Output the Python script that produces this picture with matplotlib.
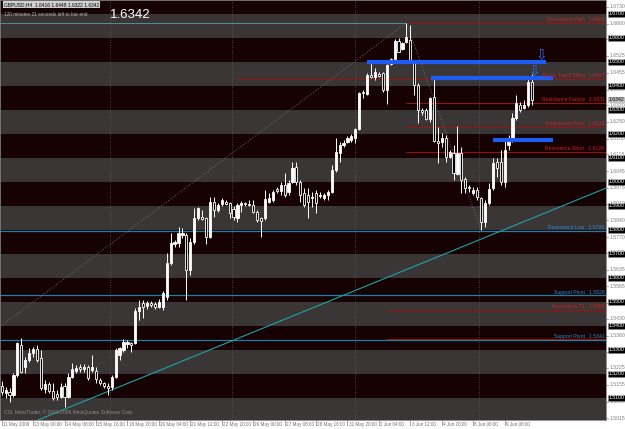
import matplotlib
matplotlib.use("Agg")
import matplotlib.pyplot as plt
import matplotlib.transforms as mtransforms
import numpy as np

# ---- GBPUSD H4 candles ----
opens = [1.5150, 1.5121, 1.5125, 1.5113, 1.5196, 1.5321, 1.5229, 1.5258, 1.5288, 1.5304,
         1.5267, 1.5138, 1.5158, 1.5129, 1.5117, 1.5104, 1.5150, 1.5104, 1.5188, 1.5213,
         1.5229, 1.5221, 1.5229, 1.5217, 1.5213, 1.5175, 1.5163, 1.5150, 1.5146, 1.5188,
         1.5279, 1.5300, 1.5325, 1.5329, 1.5329, 1.5463, 1.5496, 1.5483, 1.5496, 1.5492,
         1.5479, 1.5479, 1.5521, 1.5663, 1.5742, 1.5746, 1.5779, 1.5779, 1.5633, 1.5750,
         1.5850, 1.5854, 1.5850, 1.5771, 1.5917, 1.5883, 1.5908, 1.5917, 1.5913, 1.5888,
         1.5850, 1.5904, 1.5913, 1.5904, 1.5904, 1.5875, 1.5850, 1.5850, 1.5917, 1.5925,
         1.5971, 1.5963, 1.5988, 1.5958, 1.6000, 1.6063, 1.6000, 1.5954, 1.5946, 1.5933,
         1.5954, 1.5942, 1.5933, 1.5946, 1.5958, 1.6050, 1.6121, 1.6154, 1.6167, 1.6175,
         1.6183, 1.6221, 1.6375, 1.6367, 1.6446, 1.6438, 1.6450, 1.6454, 1.6383, 1.6492,
         1.6513, 1.6588, 1.6554, 1.6583, 1.6592, 1.6500, 1.6404, 1.6300, 1.6300, 1.6263,
         1.6354, 1.6171, 1.6167, 1.6183, 1.6104, 1.6121, 1.6033, 1.6121, 1.6013, 1.5979,
         1.5954, 1.5967, 1.5933, 1.5833, 1.5913, 1.5975, 1.6083, 1.6083, 1.6000, 1.6154,
         1.6175, 1.6267, 1.6321, 1.6308, 1.6321, 1.6416]
highs = [1.5171, 1.5146, 1.5142, 1.5204, 1.5333, 1.5350, 1.5271, 1.5308, 1.5313, 1.5321,
         1.5300, 1.5175, 1.5167, 1.5163, 1.5133, 1.5163, 1.5163, 1.5204, 1.5246, 1.5238,
         1.5242, 1.5242, 1.5238, 1.5279, 1.5229, 1.5183, 1.5167, 1.5163, 1.5196, 1.5308,
         1.5313, 1.5346, 1.5342, 1.5333, 1.5475, 1.5508, 1.5508, 1.5504, 1.5504, 1.5500,
         1.5513, 1.5546, 1.5704, 1.5788, 1.5758, 1.5813, 1.5808, 1.5788, 1.5767, 1.5892,
         1.5896, 1.5883, 1.5854, 1.5938, 1.5938, 1.5913, 1.5933, 1.5925, 1.5917, 1.5900,
         1.5913, 1.5921, 1.5917, 1.5925, 1.5925, 1.5883, 1.5854, 1.5967, 1.5954, 1.5967,
         1.5979, 1.6000, 1.6038, 1.6008, 1.6083, 1.6083, 1.6008, 1.5975, 1.5975, 1.5958,
         1.5967, 1.5958, 1.5954, 1.5967, 1.6071, 1.6183, 1.6167, 1.6175, 1.6192, 1.6200,
         1.6225, 1.6375, 1.6383, 1.6454, 1.6496, 1.6475, 1.6458, 1.6458, 1.6492, 1.6517,
         1.6596, 1.6600, 1.6583, 1.6663, 1.6654, 1.6508, 1.6413, 1.6308, 1.6308, 1.6354,
         1.6433, 1.6229, 1.6204, 1.6196, 1.6133, 1.6154, 1.6233, 1.6146, 1.6021, 1.5988,
         1.5979, 1.5979, 1.5938, 1.5925, 1.5996, 1.6100, 1.6100, 1.6133, 1.6183, 1.6196,
         1.6288, 1.6363, 1.6333, 1.6342, 1.6433, 1.6448]
lows = [1.5113, 1.5100, 1.5083, 1.5104, 1.5188, 1.5204, 1.5204, 1.5250, 1.5271, 1.5250,
        1.5133, 1.5121, 1.5121, 1.5092, 1.5092, 1.5100, 1.5063, 1.5100, 1.5183, 1.5204,
        1.5208, 1.5208, 1.5175, 1.5208, 1.5163, 1.5154, 1.5142, 1.5113, 1.5133, 1.5183,
        1.5258, 1.5292, 1.5308, 1.5292, 1.5325, 1.5425, 1.5433, 1.5471, 1.5479, 1.5471,
        1.5475, 1.5467, 1.5508, 1.5654, 1.5729, 1.5729, 1.5767, 1.5508, 1.5613, 1.5742,
        1.5842, 1.5842, 1.5742, 1.5767, 1.5854, 1.5875, 1.5900, 1.5904, 1.5850, 1.5842,
        1.5833, 1.5875, 1.5900, 1.5900, 1.5871, 1.5833, 1.5771, 1.5842, 1.5913, 1.5917,
        1.5954, 1.5946, 1.5938, 1.5946, 1.5996, 1.5988, 1.5917, 1.5896, 1.5850, 1.5896,
        1.5871, 1.5933, 1.5925, 1.5925, 1.5954, 1.6042, 1.6083, 1.6146, 1.6163, 1.6167,
        1.6163, 1.6217, 1.6350, 1.6363, 1.6433, 1.6425, 1.6438, 1.6375, 1.6325, 1.6488,
        1.6508, 1.6542, 1.6550, 1.6579, 1.6496, 1.6363, 1.6246, 1.6279, 1.6258, 1.6250,
        1.6167, 1.6079, 1.6146, 1.6083, 1.6100, 1.6008, 1.6029, 1.5954, 1.5954, 1.5958,
        1.5946, 1.5925, 1.5800, 1.5813, 1.5904, 1.5967, 1.6021, 1.5988, 1.5979, 1.6133,
        1.6167, 1.6258, 1.6292, 1.6304, 1.6313, 1.6322]
closes = [1.5125, 1.5133, 1.5113, 1.5196, 1.5329, 1.5208, 1.5258, 1.5288, 1.5304, 1.5258,
          1.5142, 1.5158, 1.5129, 1.5100, 1.5104, 1.5146, 1.5104, 1.5188, 1.5221, 1.5225,
          1.5221, 1.5229, 1.5183, 1.5229, 1.5179, 1.5163, 1.5150, 1.5142, 1.5188, 1.5300,
          1.5308, 1.5333, 1.5333, 1.5321, 1.5463, 1.5479, 1.5479, 1.5496, 1.5488, 1.5479,
          1.5500, 1.5538, 1.5663, 1.5746, 1.5750, 1.5788, 1.5788, 1.5633, 1.5750, 1.5850,
          1.5892, 1.5846, 1.5771, 1.5917, 1.5883, 1.5904, 1.5925, 1.5908, 1.5871, 1.5854,
          1.5904, 1.5913, 1.5908, 1.5908, 1.5875, 1.5842, 1.5838, 1.5929, 1.5933, 1.5958,
          1.5963, 1.5988, 1.5946, 1.5996, 1.6058, 1.6000, 1.5946, 1.5904, 1.5917, 1.5938,
          1.5913, 1.5946, 1.5946, 1.5958, 1.6050, 1.6125, 1.6154, 1.6163, 1.6183, 1.6192,
          1.6221, 1.6371, 1.6371, 1.6446, 1.6438, 1.6458, 1.6442, 1.6383, 1.6488, 1.6513,
          1.6588, 1.6542, 1.6579, 1.6604, 1.6500, 1.6404, 1.6300, 1.6292, 1.6263, 1.6350,
          1.6171, 1.6163, 1.6183, 1.6104, 1.6125, 1.6038, 1.6121, 1.6008, 1.5975, 1.5975,
          1.5967, 1.5938, 1.5833, 1.5913, 1.5971, 1.6079, 1.6058, 1.6000, 1.6133, 1.6175,
          1.6267, 1.6329, 1.6300, 1.6321, 1.6417, 1.6342]

time_label_bars = [0, 8, 16, 24, 32, 40, 48, 56, 64, 72, 80, 88, 96, 104, 112, 120, 128]
time_labels = ["11 May 2009", "13 May 00:00", "14 May 08:00", "15 May 16:00", "18 May 20:00",
               "20 May 04:00", "21 May 12:00", "22 May 20:00", "26 May 00:00", "27 May 08:00",
               "28 May 16:00", "31 May 20:00", "2 Jun 04:00", "3 Jun 12:00", "4 Jun 20:00",
               "8 Jun 00:00", "9 Jun 08:00"]
week_separators = [27.6, 58.7, 89.9, 121.5]

price_ticks = [1.6730, 1.6660, 1.6595, 1.6525, 1.6455, 1.6385, 1.6320, 1.6250, 1.6180,
               1.6115, 1.6045, 1.5975, 1.5910, 1.5840, 1.5770, 1.5705, 1.5635, 1.5565,
               1.5495, 1.5430, 1.5360, 1.5290, 1.5225, 1.5155, 1.5085, 1.5015]
round_levels = [1.67, 1.66, 1.65, 1.64, 1.63, 1.62, 1.61, 1.60, 1.59, 1.58, 1.57,
                1.56, 1.55, 1.54, 1.53, 1.52, 1.51]
band_bottoms = [1.50, 1.52, 1.54, 1.56, 1.58, 1.60, 1.62, 1.64, 1.66]

# red resistance levels: (price, start bar, label)
red_levels = [(1.6662, 103, "Resistance High   1.6662"),
              (1.6429, 60, "Break Trend Short   1.6427"),
              (1.6329, 103, "Resistance Failure   1.6331"),
              (1.6229, 103, "Resistance Pivot   1.6226"),
              (1.6126, 103, "Resistance Short   1.6126"),
              (1.5468, 98, "Resistance T1   1.5468"),
              (1.5347, 98, "")]
# blue-teal support levels: (price, label)
teal_levels = [(1.5796, "Resistance Low   1.5796"),
               (1.5528, "Support Pivot   1.5528"),
               (1.5341, "Support Pivot   1.5341")]
# thick blue lines: (price, start bar, end bar, arrow bar)
blue_lines = [(1.6502, 93, 138.5, 137.3),
              (1.6435, 109.2, 140.3, 135.5),
              (1.6173, 125, 140.3, None)]
zigzag_bars = [-0.4, 103, 122]
zigzag_prices = [1.5397, 1.6663, 1.5800]
trend_bars = [9.2, 138.3]
trend_prices = [1.5008, 1.5871]
peak_bar = 103
peak_price = 1.6662
last_price = 1.6342

plt.rcParams['font.family'] = ['Liberation Sans', 'DejaVu Sans']
small = 3.7

fig = plt.figure(figsize=(6.25, 4.29), dpi=100, facecolor='white')
ax = fig.add_axes([0, 9 / 429, 606 / 625, 420 / 429])
ax.set_facecolor('#160202')
ax.set_xlim(-0.43, 153.8)
ax.set_ylim(1.500833, 1.675833)

for b in band_bottoms:
    ax.axhspan(b, b + 0.01, color='#3b3636', lw=0, zorder=0)

for s in week_separators:
    ax.axvline(s, color='#5a5a5a', ls=(0, (1, 2)), lw=0.6, zorder=1)

# level lines
ax.plot([-0.43, peak_bar], [peak_price, peak_price], color='#4f8fa0', lw=0.7, zorder=2)
for price, label in teal_levels:
    ax.axhline(price, color='#1f7fa8', lw=0.9, zorder=2)
    ax.text(153.4, price + 0.0003, label, color='#2a8ad0', fontsize=small,
            ha='right', va='bottom', zorder=6)
for price, start, label in red_levels:
    ax.plot([start, 153.8], [price, price], color='#a01010', lw=0.7, zorder=2)
    if label:
        ax.text(153.4, price + 0.0003, label, color='#d02020', fontsize=small,
                ha='right', va='bottom', zorder=6)

ax.plot(zigzag_bars, zigzag_prices, color='#6e6e6e', ls=(0, (1, 2)), lw=0.7, zorder=2)
ax.axline((trend_bars[0], trend_prices[0]), (trend_bars[1], trend_prices[1]),
          color='#1fa2a8', lw=0.8, zorder=2)

# candles
x = np.arange(len(opens))
o = np.array(opens); h = np.array(highs); l = np.array(lows); c = np.array(closes)
ax.vlines(x, l, h, color='white', lw=0.7, zorder=3)
up = c >= o
ax.bar(x[up], c[up] - o[up], bottom=o[up], width=0.55, color='white',
       edgecolor='white', lw=0.6, zorder=4)
ax.bar(x[~up], o[~up] - c[~up], bottom=c[~up], width=0.55, color='black',
       edgecolor='white', lw=0.6, zorder=4)

for price, x0, x1, arrow in blue_lines:
    ax.plot([x0, x1], [price, price], color='#1f5cf5', lw=3, solid_capstyle='butt', zorder=5)
    if arrow is not None:
        ax.text(arrow, price + 0.0002, '\u21e9', family='DejaVu Sans', color='#2f6ff5',
                fontsize=10, ha='center', va='bottom', zorder=6)

# headline texts
ax.text(0.006, 0.995, "GBPUSD,H4  1.6416 1.6448 1.6322 1.6342", transform=ax.transAxes,
        fontsize=3.5, color='black', va='top', ha='left',
        bbox=dict(boxstyle='square,pad=0.15', fc='#d0d0d0', ec='none'), zorder=7)
ax.text(0.006, 0.972, "120 minutes 21 seconds left to bar end", transform=ax.transAxes,
        fontsize=3.4, color='#b0b0b0', va='top', ha='left', zorder=7)
ax.text(0.181, 0.978, "%.4f" % last_price, transform=ax.transAxes, fontsize=9.5,
        color='white', va='top', ha='left', zorder=7)
ax.text(0.006, 0.012, "CDL MetaTrader, \u00a9 2001-2009 MetaQuotes Software Corp.",
        transform=ax.transAxes, fontsize=3.5, color='#8a8a8a', va='bottom', ha='left', zorder=7)

# right price scale
trans_r = mtransforms.blended_transform_factory(ax.transAxes, ax.transData)
for p in price_ticks:
    ax.text(1.006, p, "%.4f" % p, transform=trans_r, fontsize=small, color='#808080',
            ha='left', va='center', clip_on=False)
    ax.plot([1.0, 1.004], [p, p], transform=trans_r, color='#808080', lw=0.5, clip_on=False)
for p in round_levels:
    ax.text(1.004, p, "%.4f" % p, transform=trans_r, fontsize=small, color='white',
            ha='left', va='center', clip_on=False, zorder=8,
            bbox=dict(boxstyle='square,pad=0.15', fc='black', ec='#909090', lw=0.4))
ax.text(1.004, last_price, "%.4f" % last_price, transform=trans_r, fontsize=small,
        color='black', ha='left', va='center', clip_on=False, zorder=9,
        bbox=dict(boxstyle='square,pad=0.15', fc='#c0c0c0', ec='none'))

# bottom time scale
trans_b = mtransforms.blended_transform_factory(ax.transData, ax.transAxes)
for b, t in zip(time_label_bars, time_labels):
    ax.text(b + 0.3, -0.004, t, transform=trans_b, fontsize=3.3, color='#707070',
            ha='left', va='top', clip_on=False)
    ax.plot([b, b], [0, -0.012], transform=trans_b, color='#808080', lw=0.5, clip_on=False)

ax.set_xticks([])
ax.set_yticks([])
for sp in ax.spines.values():
    sp.set_color('#808080')
    sp.set_linewidth(0.6)

fig.savefig('out.png', dpi=100, facecolor='white')
